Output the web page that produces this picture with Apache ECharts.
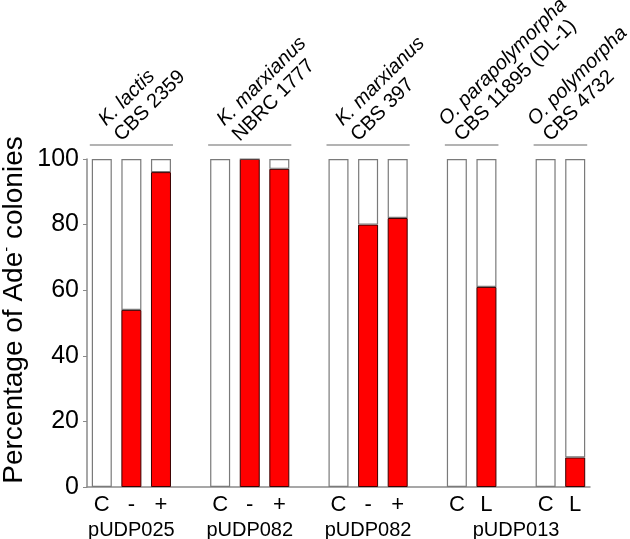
<!DOCTYPE html>
<html><head><meta charset="utf-8">
<script src="https://cdn.jsdelivr.net/npm/echarts@6/dist/echarts.min.js"></script>
<style>html,body{margin:0;padding:0;background:#fff}#c{width:630px;height:539px}</style>
</head><body><div id="c"></div>
<script>
// ---- data ----
var categories = ['C','-','+','', 'C','-','+','', 'C','-','+','', 'C','L','', 'C','L'];
var redValues  = [0,54,96,null, 0,100,97,null, 0,80,82,null, 0,61,null, 0,9];
var plasmidLabels = {1:'pUDP025', 5:'pUDP082', 9:'pUDP082', 14:'pUDP013'};
var speciesNames = ['K. lactis','K. marxianus','K. marxianus','O. parapolymorpha','O. polymorpha'];
var strainNames  = ['CBS 2359','NBRC 1777','CBS 397','CBS 11895 (DL-1)','CBS 4732'];
var groupFirst = [0,4,8,12,15];
var groupLast  = [2,6,10,13,16];
var yTicks = [0,20,40,60,80,100];

var whiteValues = redValues.map(function(v){ return v === null ? null : 100 - v; });
var redSeries = redValues.map(function(v){ return (v === null || v === 0) ? '-' : v; });
var FONT = 'Liberation Sans, Arial, sans-serif';

var chart = echarts.init(document.getElementById('c'));
chart.setOption({
  animation: false,
  grid: {left: 87, right: 40, top: 159, bottom: 52, containLabel: false, outerBoundsMode: 'none'},
  xAxis: {
    type: 'category', data: categories.map(function(c,i){return String(i);}),
    boundaryGap: true,
    axisLine: {lineStyle: {color: '#8a8a8a', width: 1.5}},
    axisTick: {show: false},
    axisLabel: {
      interval: 0, margin: 7,
      fontSize: 22, color: '#000', fontFamily: FONT,
      formatter: function(v){ return categories[+v]; }
    }
  },
  yAxis: {
    type: 'value', min: yTicks[0], max: yTicks[yTicks.length-1], interval: 20,
    axisLine: {show: true, lineStyle: {color: '#8a8a8a', width: 1.5}},
    axisTick: {show: true, length: 4, lineStyle: {color: '#8a8a8a'}},
    splitLine: {show: false},
    axisLabel: {fontSize: 25, color: '#000', fontFamily: FONT, margin: 8}
  },
  series: [
    {type: 'bar', stack: 's', data: redSeries, barWidth: 20,
     itemStyle: {color: '#ff0000', borderColor: '#3a0000', borderWidth: 1}},
    {type: 'bar', stack: 's', data: whiteValues, barWidth: 20,
     itemStyle: {color: '#ffffff', borderColor: '#7a7a7a', borderWidth: 1.2}}
  ]
});

// annotations placed through the axis scale
var gfx = [];
var y100 = chart.convertToPixel({yAxisIndex: 0}, 100);
var y0 = chart.convertToPixel({yAxisIndex: 0}, 0);
var yLine = y100 - 14;
for (var g = 0; g < speciesNames.length; g++) {
  var xa = chart.convertToPixel({xAxisIndex: 0}, groupFirst[g]);
  var xb = chart.convertToPixel({xAxisIndex: 0}, groupLast[g]);
  gfx.push({type: 'line', shape: {x1: xa - 12, y1: yLine, x2: xb + 12, y2: yLine},
            style: {stroke: '#9a9a9a', lineWidth: 1.5}});
  var cx = (xa + xb) / 2;
  gfx.push({type: 'text', x: cx - 6, y: yLine + 1, rotation: Math.PI / 4,
    style: {
      text: '{i|' + speciesNames[g] + '}\n{n|' + strainNames[g] + '}',
      align: 'left', verticalAlign: 'bottom', textAlign: 'left', textVerticalAlign: 'bottom',
      rich: {
        i: {fontSize: 20, fontStyle: 'italic', fontFamily: FONT, fill: '#000', lineHeight: 22},
        n: {fontSize: 20, fontFamily: FONT, fill: '#000', lineHeight: 22}
      }
    }});
}
Object.keys(plasmidLabels).forEach(function(k){
  var px = chart.convertToPixel({xAxisIndex: 0}, +k);
  gfx.push({type: 'text', x: px, y: y0 + 33,
    style: {text: plasmidLabels[k], fontSize: 20, fontFamily: FONT, fill: '#000',
            align: 'center', verticalAlign: 'top', textAlign: 'center', textVerticalAlign: 'top'}});
});
gfx.push({type: 'text', x: 14, y: 310, rotation: Math.PI / 2,
  style: {
    text: '{n|Percentage of Ade}{s|-}{n| colonies}',
    align: 'center', verticalAlign: 'middle', textAlign: 'center', textVerticalAlign: 'middle',
    rich: {
      n: {fontSize: 28, fontFamily: FONT, fill: '#000', lineHeight: 30},
      s: {fontSize: 15, fontFamily: FONT, fill: '#000', lineHeight: 30, verticalAlign: 'top', padding: [0,0,14,0]}
    }
  }});
chart.setOption({graphic: gfx});
</script>
</body></html>
